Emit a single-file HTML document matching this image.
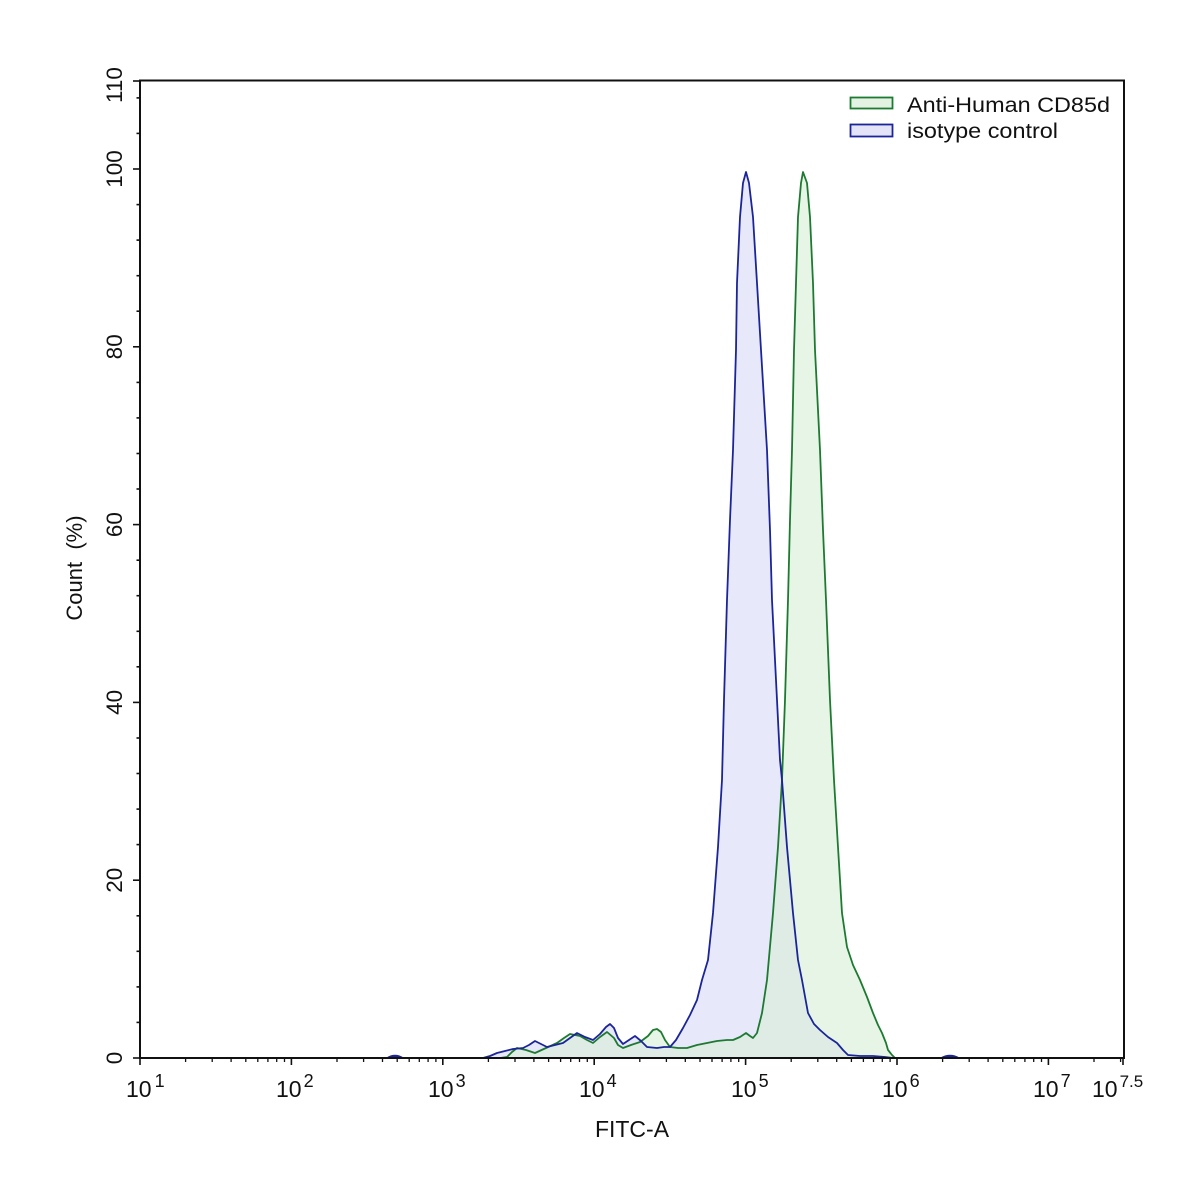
<!DOCTYPE html>
<html>
<head>
<meta charset="utf-8">
<style>
  html,body{margin:0;padding:0;background:#fff;}
  svg{display:block;}
  text{font-family:"Liberation Sans",Arial,sans-serif;fill:#111;}
</style>
</head>
<body>
<svg width="1197" height="1193" viewBox="0 0 1197 1193" xmlns="http://www.w3.org/2000/svg">
  <rect x="0" y="0" width="1197" height="1193" fill="#ffffff"/>

  <!-- isotype control (blue) -->
  <path fill="rgb(228,228,250)" fill-opacity="0.85" stroke="none"
    d="M483,1058 L490,1056 L497,1053 L505,1051 L513,1049 L523,1048 L529,1045 L535,1041 L541,1044 L547,1047 L555,1045 L563,1043 L570,1038 L577,1033 L585,1037 L593,1040 L600,1034 L606,1027 L610,1024 L614,1028 L618,1038 L623,1044 L629,1040 L635,1036 L641,1041 L647,1047 L657,1048 L664,1047 L670,1047 L676,1040 L683,1028 L690,1015 L697,1000 L702,980 L708,960 L713,913 L718,847 L722,780 L724,700 L727,600 L730,520 L733,450 L736,350 L737,283 L740,217 L743,183 L746,172 L749,183 L753,217 L757,283 L761,350 L767,450 L770,530 L772,600 L776,680 L780,760 L782,780 L787,847 L793,913 L798,960 L802,980 L808,1013 L814,1024 L820,1030 L828,1037 L837,1043 L843,1050 L848,1055 L860,1056 L873,1056 L885,1057 L893,1058 Z"/>
  <!-- Anti-Human (green) fill -->
  <path fill="rgb(215,238,215)" fill-opacity="0.6" stroke="none"
    d="M500,1058 L507,1057 L512,1052 L517,1048 L526,1050 L535,1053 L546,1048 L557,1043 L564,1038 L570,1034 L575,1035 L580,1036 L587,1040 L593,1043 L600,1037 L607,1032 L614,1038 L618,1045 L623,1048 L631,1045 L640,1042 L648,1036 L653,1030 L657,1029 L661,1032 L665,1040 L670,1047 L678,1048 L687,1048 L697,1045 L707,1043 L717,1041 L727,1040 L733,1040 L740,1037 L746,1033 L750,1036 L753,1038 L757,1033 L762,1013 L767,980 L773,913 L778,847 L782,780 L785,700 L788,600 L790,520 L792,450 L794,350 L796,283 L798,217 L801,183 L803,172 L807,183 L810,217 L813,283 L815,350 L820,450 L823,530 L826,600 L830,700 L834,780 L838,847 L842,913 L847,947 L853,965 L860,980 L867,997 L873,1013 L878,1025 L882,1033 L886,1043 L888,1050 L892,1055 L895,1058 Z"/>

  <!-- green line -->
  <polyline fill="none" stroke="#1d7a30" stroke-width="1.8" stroke-linejoin="round"
    points="500,1058 507,1057 512,1052 517,1048 526,1050 535,1053 546,1048 557,1043 564,1038 570,1034 575,1035 580,1036 587,1040 593,1043 600,1037 607,1032 614,1038 618,1045 623,1048 631,1045 640,1042 648,1036 653,1030 657,1029 661,1032 665,1040 670,1047 678,1048 687,1048 697,1045 707,1043 717,1041 727,1040 733,1040 740,1037 746,1033 750,1036 753,1038 757,1033 762,1013 767,980 773,913 778,847 782,780 785,700 788,600 790,520 792,450 794,350 796,283 798,217 801,183 803,172 807,183 810,217 813,283 815,350 820,450 823,530 826,600 830,700 834,780 838,847 842,913 847,947 853,965 860,980 867,997 873,1013 878,1025 882,1033 886,1043 888,1050 892,1055 895,1058"/>
  <!-- blue line -->
  <polyline fill="none" stroke="#1b2599" stroke-width="1.8" stroke-linejoin="round"
    points="483,1058 490,1056 497,1053 505,1051 513,1049 523,1048 529,1045 535,1041 541,1044 547,1047 555,1045 563,1043 570,1038 577,1033 585,1037 593,1040 600,1034 606,1027 610,1024 614,1028 618,1038 623,1044 629,1040 635,1036 641,1041 647,1047 657,1048 664,1047 670,1047 676,1040 683,1028 690,1015 697,1000 702,980 708,960 713,913 718,847 722,780 724,700 727,600 730,520 733,450 736,350 737,283 740,217 743,183 746,172 749,183 753,217 757,283 761,350 767,450 770,530 772,600 776,680 780,760 782,780 787,847 793,913 798,960 802,980 808,1013 814,1024 820,1030 828,1037 837,1043 843,1050 848,1055 860,1056 873,1056 885,1057 893,1058"/>
  <!-- small blips -->
  <path d="M387,1058 Q395,1053 403,1058" fill="#1b2599" stroke="#1b2599" stroke-width="1.5"/>
  <path d="M941,1058 Q950,1053 959,1058" fill="#1b2599" stroke="#1b2599" stroke-width="1.5"/>

  <!-- plot frame -->
  <rect x="140" y="80.5" width="984" height="977.5" fill="none" stroke="#111" stroke-width="2"/>

  <!-- Y ticks -->
  <g stroke="#111" stroke-width="1.6">
    <line x1="133" y1="1058" x2="140" y2="1058"/>
    <line x1="133" y1="880.2" x2="140" y2="880.2"/>
    <line x1="133" y1="702.4" x2="140" y2="702.4"/>
    <line x1="133" y1="524.6" x2="140" y2="524.6"/>
    <line x1="133" y1="346.8" x2="140" y2="346.8"/>
    <line x1="133" y1="169" x2="140" y2="169"/>
    <line x1="133" y1="81" x2="140" y2="81"/>
    <line x1="136.5" y1="1022.4" x2="140" y2="1022.4"/>
    <line x1="136.5" y1="986.9" x2="140" y2="986.9"/>
    <line x1="136.5" y1="951.3" x2="140" y2="951.3"/>
    <line x1="136.5" y1="915.8" x2="140" y2="915.8"/>
    <line x1="136.5" y1="844.6" x2="140" y2="844.6"/>
    <line x1="136.5" y1="809.1" x2="140" y2="809.1"/>
    <line x1="136.5" y1="773.5" x2="140" y2="773.5"/>
    <line x1="136.5" y1="738.0" x2="140" y2="738.0"/>
    <line x1="136.5" y1="666.8" x2="140" y2="666.8"/>
    <line x1="136.5" y1="631.3" x2="140" y2="631.3"/>
    <line x1="136.5" y1="595.7" x2="140" y2="595.7"/>
    <line x1="136.5" y1="560.2" x2="140" y2="560.2"/>
    <line x1="136.5" y1="489.0" x2="140" y2="489.0"/>
    <line x1="136.5" y1="453.5" x2="140" y2="453.5"/>
    <line x1="136.5" y1="417.9" x2="140" y2="417.9"/>
    <line x1="136.5" y1="382.4" x2="140" y2="382.4"/>
    <line x1="136.5" y1="311.2" x2="140" y2="311.2"/>
    <line x1="136.5" y1="275.7" x2="140" y2="275.7"/>
    <line x1="136.5" y1="240.1" x2="140" y2="240.1"/>
    <line x1="136.5" y1="204.6" x2="140" y2="204.6"/>
    <line x1="136.5" y1="133.4" x2="140" y2="133.4"/>
    <line x1="136.5" y1="97.9" x2="140" y2="97.9"/>
  </g>

  <!-- Y labels -->
  <g font-size="22.5" text-anchor="middle">
    <text transform="translate(122,1058) rotate(-90)">0</text>
    <text transform="translate(122,880.2) rotate(-90)">20</text>
    <text transform="translate(122,702.4) rotate(-90)">40</text>
    <text transform="translate(122,524.6) rotate(-90)">60</text>
    <text transform="translate(122,346.8) rotate(-90)">80</text>
    <text transform="translate(122,169) rotate(-90)">100</text>
    <text transform="translate(122,85) rotate(-90)">110</text>
  </g>
  <text transform="translate(82,568) rotate(-90)" font-size="22" text-anchor="middle" xml:space="preserve">Count  (%)</text>

  <!-- X ticks -->
  <g stroke="#111" stroke-width="1.6">
    <line x1="140" y1="1058" x2="140" y2="1065"/>
    <line x1="291.4" y1="1058" x2="291.4" y2="1065"/>
    <line x1="442.8" y1="1058" x2="442.8" y2="1065"/>
    <line x1="594.2" y1="1058" x2="594.2" y2="1065"/>
    <line x1="745.6" y1="1058" x2="745.6" y2="1065"/>
    <line x1="897" y1="1058" x2="897" y2="1065"/>
    <line x1="1048.4" y1="1058" x2="1048.4" y2="1065"/>
    <line x1="1123" y1="1058" x2="1123" y2="1065"/>
  </g>
  <g stroke="#111" stroke-width="1.3">
    <g id="m1">
      <line x1="185.6" y1="1058" x2="185.6" y2="1062"/>
      <line x1="212.2" y1="1058" x2="212.2" y2="1062"/>
      <line x1="231.1" y1="1058" x2="231.1" y2="1062"/>
      <line x1="245.8" y1="1058" x2="245.8" y2="1062"/>
      <line x1="257.8" y1="1058" x2="257.8" y2="1062"/>
      <line x1="267.9" y1="1058" x2="267.9" y2="1062"/>
      <line x1="276.7" y1="1058" x2="276.7" y2="1062"/>
      <line x1="284.5" y1="1058" x2="284.5" y2="1062"/>
    </g>
    <use href="#m1" transform="translate(151.4,0)"/>
    <use href="#m1" transform="translate(302.8,0)"/>
    <use href="#m1" transform="translate(454.2,0)"/>
    <use href="#m1" transform="translate(605.6,0)"/>
    <use href="#m1" transform="translate(757,0)"/>
    <line x1="1094" y1="1058" x2="1094" y2="1062"/>
    <line x1="1120.6" y1="1058" x2="1120.6" y2="1062"/>
  </g>

  <!-- X labels -->
  <g font-size="23">
    <text x="126" y="1097">10<tspan font-size="18" dx="3" dy="-10">1</tspan></text>
    <text x="276" y="1097">10<tspan font-size="18" dx="2" dy="-10">2</tspan></text>
    <text x="428" y="1097">10<tspan font-size="18" dx="2" dy="-10">3</tspan></text>
    <text x="579" y="1097">10<tspan font-size="18" dx="2" dy="-10">4</tspan></text>
    <text x="731" y="1097">10<tspan font-size="18" dx="2" dy="-10">5</tspan></text>
    <text x="882" y="1097">10<tspan font-size="18" dx="2" dy="-10">6</tspan></text>
    <text x="1033" y="1097">10<tspan font-size="18" dx="2" dy="-10">7</tspan></text>
    <text x="1092" y="1097">10<tspan font-size="17" dx="2" dy="-10">7.5</tspan></text>
  </g>
  <text x="632" y="1137" font-size="23" text-anchor="middle">FITC-A</text>

  <!-- legend -->
  <rect x="850.5" y="97.5" width="42" height="11" fill="#e4f2e4" stroke="#1d7a30" stroke-width="1.8"/>
  <rect x="850.5" y="124.5" width="42" height="12" fill="#e4e4f8" stroke="#1b2599" stroke-width="1.8"/>
  <text x="907" y="112" font-size="21" textLength="203" lengthAdjust="spacingAndGlyphs">Anti-Human CD85d</text>
  <text x="907" y="138" font-size="21" textLength="151" lengthAdjust="spacingAndGlyphs">isotype control</text>
</svg>
</body>
</html>
